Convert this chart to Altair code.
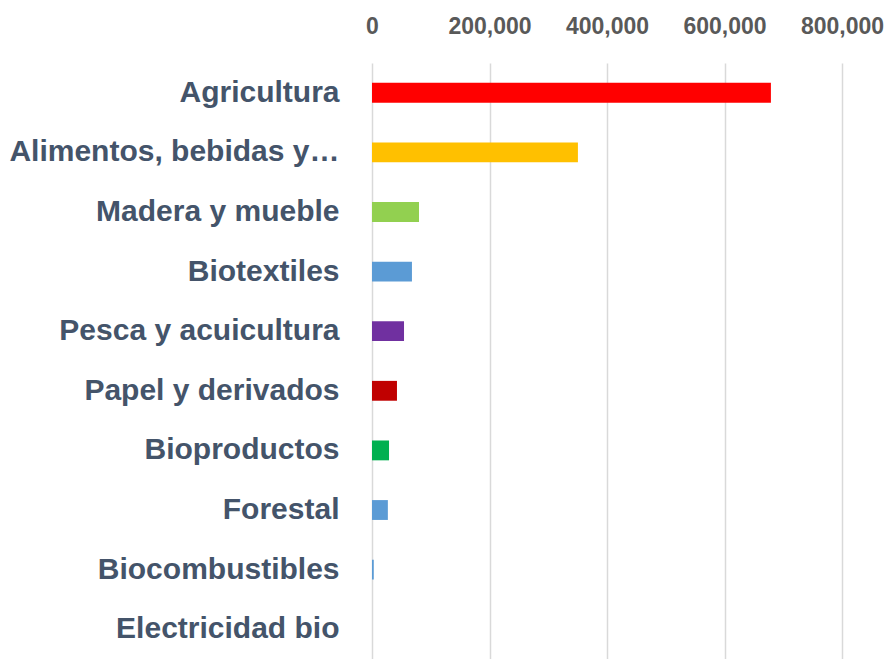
import altair as alt
import pandas as pd

categories = ["Agricultura", "Alimentos, bebidas y…", "Madera y mueble", "Biotextiles",
              "Pesca y acuicultura", "Papel y derivados", "Bioproductos", "Forestal",
              "Biocombustibles", "Electricidad bio"]
values = [679000, 350500, 80000, 68000, 54500, 42500, 29000, 27000, 3000, 0]
colors = ["#FF0000", "#FFC000", "#92D050", "#5B9BD5", "#7030A0", "#C00000",
          "#00B050", "#5B9BD5", "#5B9BD5", "#5B9BD5"]
x_ticks = [0, 200000, 400000, 600000, 800000]

df = pd.DataFrame({"cat": categories, "val": values, "col": colors})

chart = alt.Chart(df).mark_bar().encode(
    y=alt.Y("cat:N", sort=categories,
            scale=alt.Scale(paddingInner=0.667, paddingOuter=0.333),
            axis=alt.Axis(title=None, ticks=False, domain=False, labelPadding=33,
                          labelFont="Liberation Sans", labelFontSize=30, labelFontWeight="bold",
                          labelColor="#44546A", labelLimit=400)),
    x=alt.X("val:Q", scale=alt.Scale(domain=[0, 800000], nice=False),
            axis=alt.Axis(title=None, orient="top", values=x_ticks, format=",.0f",
                          ticks=False, domain=False, grid=True, gridColor="#D9D9D9",
                          gridWidth=1.5, labelPadding=25, labelFont="Liberation Sans",
                          labelFontSize=23, labelFontWeight="bold",
                          labelColor="#595959", labelFlush=False)),
    color=alt.Color("col:N", scale=None, legend=None),
).properties(
    width=470, height=596,
    padding={"left": 372, "top": 63, "right": 48, "bottom": 0},
    autosize=alt.AutoSizeParams(type="none"),
).configure_view(stroke=None)

chart.save("out.html", embed_options={"renderer": "svg", "actions": False})
